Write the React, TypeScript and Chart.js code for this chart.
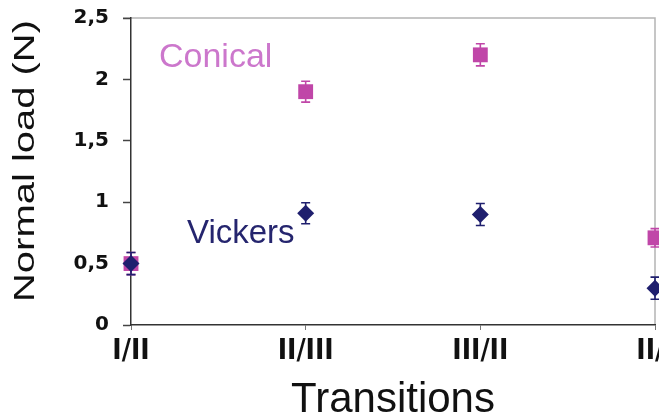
import React, { useEffect, useRef } from "react";
import { Chart, registerables } from "chart.js";

Chart.register(...registerables);

const categories = ["I/II", "II/III", "III/II", "II/I"];
const conicalValues = [0.5, 1.9, 2.2, 0.71];
const conicalErrors = [0.09, 0.085, 0.09, 0.075];
const vickersValues = [0.5, 0.91, 0.9, 0.3];
const vickersErrors = [0.09, 0.085, 0.09, 0.09];
const yTicks = [0, 0.5, 1, 1.5, 2, 2.5];
const yTitle = "Normal load (N)";
const xTitle = "Transitions";
const conicalLabel = "Conical";
const vickersLabel = "Vickers";

const PINK = "#c046a8";
const NAVY = "#1f1f6e";

const framePlugin = {
  id: "frame",
  beforeDraw(chart: any) {
    const { ctx, chartArea } = chart;
    ctx.save();
    ctx.strokeStyle = "#b4b4b4";
    ctx.lineWidth = 1.5;
    ctx.beginPath();
    ctx.moveTo(chartArea.left - 8, chartArea.top);
    ctx.lineTo(chartArea.right, chartArea.top);
    ctx.lineTo(chartArea.right, chartArea.bottom);
    ctx.stroke();
    ctx.restore();
  },
};

const errorBarPlugin = {
  id: "errorBars",
  beforeDatasetsDraw(chart: any) {
    const ctx = chart.ctx;
    const ys = chart.scales.y;
    chart.data.datasets.forEach((ds: any, i: number) => {
      const meta = chart.getDatasetMeta(i);
      meta.data.forEach((pt: any, j: number) => {
        const v = ds.data[j];
        const e = ds.errors[j];
        const top = ys.getPixelForValue(v + e);
        const bot = ys.getPixelForValue(v - e);
        ctx.save();
        ctx.strokeStyle = ds.borderColor;
        ctx.lineWidth = 1.6;
        ctx.beginPath();
        ctx.moveTo(pt.x, top);
        ctx.lineTo(pt.x, bot);
        ctx.moveTo(pt.x - 4.5, top);
        ctx.lineTo(pt.x + 4.5, top);
        ctx.moveTo(pt.x - 4.5, bot);
        ctx.lineTo(pt.x + 4.5, bot);
        ctx.stroke();
        ctx.restore();
      });
    });
  },
};

const textPlugin = {
  id: "texts",
  afterDraw(chart: any) {
    const { ctx, chartArea } = chart;
    ctx.save();
    ctx.font = "29px 'Liberation Sans', Arial, sans-serif";
    ctx.fillStyle = "#111";
    ctx.textAlign = "center";
    ctx.textBaseline = "middle";
    const w = ctx.measureText(yTitle).width;
    ctx.translate(26, 161);
    ctx.rotate(-Math.PI / 2);
    ctx.scale(282 / w, 1);
    ctx.fillText(yTitle, 0, 0);
    ctx.restore();

    ctx.save();
    ctx.font = "42px 'Liberation Sans', Arial, sans-serif";
    ctx.fillStyle = "#111";
    ctx.textAlign = "center";
    ctx.textBaseline = "alphabetic";
    ctx.fillText(xTitle, (chartArea.left + chartArea.right) / 2, 412);
    ctx.restore();

    ctx.save();
    ctx.font = "34px 'Liberation Sans', Arial, sans-serif";
    ctx.fillStyle = "#cc77cc";
    ctx.textAlign = "left";
    ctx.textBaseline = "alphabetic";
    ctx.fillText(conicalLabel, 159, 67);
    ctx.font = "33px 'Liberation Sans', Arial, sans-serif";
    ctx.fillStyle = "#25256e";
    ctx.fillText(vickersLabel, 187, 243);
    ctx.restore();
  },
};

export default function App() {
  const ref = useRef<HTMLCanvasElement>(null);
  useEffect(() => {
    if (!ref.current) return;
    const chart = new Chart(ref.current, {
      type: "line",
      data: {
        labels: categories,
        datasets: [
          {
            label: "Conical",
            data: conicalValues,
            errors: conicalErrors,
            showLine: false,
            pointStyle: "rect",
            pointRadius: 10.5,
            backgroundColor: PINK,
            borderColor: PINK,
            pointBorderWidth: 0,
            clip: false,
            order: 1,
          } as any,
          {
            label: "Vickers",
            data: vickersValues,
            errors: vickersErrors,
            showLine: false,
            pointStyle: "rectRot",
            pointRadius: 8.5,
            backgroundColor: NAVY,
            borderColor: NAVY,
            pointBorderWidth: 0,
            clip: false,
            order: 0,
          } as any,
        ],
      },
      options: {
        responsive: false,
        animation: false,
        devicePixelRatio: 1,
        layout: { autoPadding: false, padding: { top: 18, right: 4, left: 0, bottom: 0 } },
        plugins: {
          legend: { display: false },
          tooltip: { enabled: false },
          title: { display: false },
        },
        scales: {
          x: {
            type: "category",
            offset: false,
            grid: {
              display: true,
              drawOnChartArea: false,
              drawTicks: true,
              tickLength: 5,
              tickColor: "#777",
              tickWidth: 1,
            },
            border: { display: true, color: "#333", width: 1.5 },
            ticks: {
              color: "#111",
              padding: 5,
              maxRotation: 0,
              autoSkip: false,
              font: {
                family: "'Liberation Sans Narrow', 'DejaVu Sans Condensed', Arial, sans-serif",
                size: 28,
                weight: "bold",
              },
            },
            afterFit(scale: any) {
              scale.height = 91;
              scale.paddingLeft = 0;
              scale.paddingRight = 0;
            },
          },
          y: {
            type: "linear",
            min: 0,
            max: 2.5,
            grid: {
              display: true,
              drawOnChartArea: false,
              drawTicks: true,
              tickLength: 8,
              tickColor: "#444",
              tickWidth: 1.5,
            },
            border: { display: true, color: "#333", width: 1.5 },
            afterBuildTicks(scale: any) {
              scale.ticks = yTicks.map((v) => ({ value: v }));
            },
            ticks: {
              color: "#111",
              padding: 14,
              callback: (v: any) => String(v).replace(".", ","),
              font: {
                family: "'DejaVu Sans', sans-serif",
                size: 20,
                weight: "bold",
              },
            },
            afterFit(scale: any) {
              scale.width = 131;
              scale.paddingTop = 0;
              scale.paddingBottom = 0;
            },
          },
        },
      },
      plugins: [framePlugin, errorBarPlugin, textPlugin],
    } as any);
    return () => chart.destroy();
  }, []);
  return (
    <div style={{ position: "absolute", left: 0, top: 0, width: 659, height: 416, overflow: "hidden", background: "#fff" }}>
      <canvas ref={ref} width={659} height={416} style={{ display: "block" }} />
    </div>
  );
}
